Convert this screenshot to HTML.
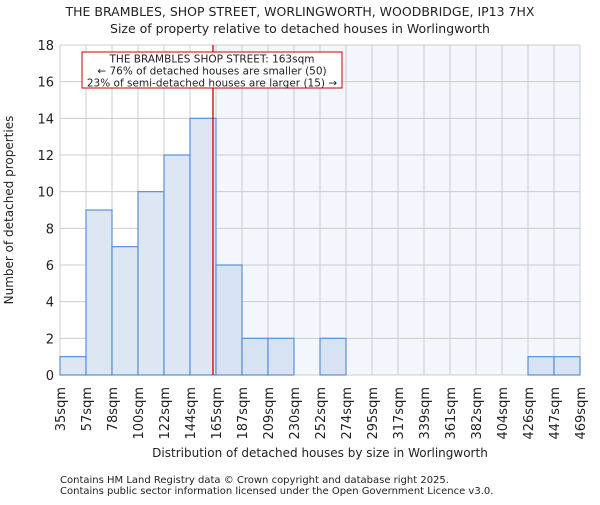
<!DOCTYPE html>
<html><head><meta charset="utf-8"><style>
body{margin:0;background:#fff}
text{font-family:"DejaVu Sans","Liberation Sans",sans-serif;fill:#222}
</style></head><body>
<svg id="chart" width="600" height="500" xmlns="http://www.w3.org/2000/svg">
<text x="300" y="16" text-anchor="middle" font-size="12.5">THE BRAMBLES, SHOP STREET, WORLINGWORTH, WOODBRIDGE, IP13 7HX</text>
<text x="300" y="33" text-anchor="middle" font-size="12.5">Size of property relative to detached houses in Worlingworth</text>
<g id="plot"></g>
<text x="320" y="457" text-anchor="middle" font-size="12">Distribution of detached houses by size in Worlingworth</text>
<text transform="translate(13,210) rotate(-90)" text-anchor="middle" font-size="12">Number of detached properties</text>
<text x="60" y="483" font-size="10">Contains HM Land Registry data © Crown copyright and database right 2025.</text>
<text x="60" y="494" font-size="10">Contains public sector information licensed under the Open Government Licence v3.0.</text>
</svg>
<script>
const binLabels=["35sqm","57sqm","78sqm","100sqm","122sqm","144sqm","165sqm","187sqm","209sqm","230sqm","252sqm","274sqm","295sqm","317sqm","339sqm","361sqm","382sqm","404sqm","426sqm","447sqm","469sqm"];
const counts=[1,9,7,10,12,14,6,2,2,0,2,0,0,0,0,0,0,0,1,1];
const yTicks=[0,2,4,6,8,10,12,14,16,18];
const propertyIndex=5+19/21.5;
const L=60,R=580,T=45,B=375,yMax=18;
const n=counts.length,bw=(R-L)/n;
const xs=i=>L+i*bw;
const ys=v=>B-(v/yMax)*(B-T);
const NS="http://www.w3.org/2000/svg";
const g=document.getElementById('plot');
function mk(t,a){const e=document.createElementNS(NS,t);for(const k in a)e.setAttribute(k,a[k]);g.appendChild(e);return e;}
const px=xs(propertyIndex);
let e=mk('rect',{x:px,y:T,width:R-px,height:B-T,fill:'#f3f6fd'});


for(const t of yTicks){
 e=mk('line',{x1:L,x2:R,y1:ys(t),y2:ys(t),stroke:'#ccc','stroke-width':1});
 
 
 e=mk('text',{x:L-6,y:ys(t)+5,'text-anchor':'end','font-size':'13'});e.textContent=t;
 
 
}
for(let i=0;i<=n;i++){
 e=mk('line',{x1:xs(i),x2:xs(i),y1:T,y2:B,stroke:'#ccc','stroke-width':1});
 
 
}
counts.forEach((c,i)=>{
 if(c<=0)return;
 const right=i>=6;
 e=mk('rect',{x:xs(i),y:ys(c),width:bw,height:B-ys(c),fill:right?'#d7e2f3':'#dde6f3',stroke:'#5b8fd6','stroke-width':1.2});
 
 
});
binLabels.forEach((l,i)=>{
 e=mk('text',{transform:`translate(${xs(i)+5},387) rotate(-90)`,'text-anchor':'end','font-size':'13'});e.textContent=l;
 
 
});
e=mk('line',{x1:px,x2:px,y1:T,y2:B,stroke:'#c00','stroke-width':1.3});


e=mk('rect',{x:82,y:52,width:260,height:36,fill:'#fff',stroke:'#c00','stroke-width':1});


["THE BRAMBLES SHOP STREET: 163sqm","← 76% of detached houses are smaller (50)","23% of semi-detached houses are larger (15) →"].forEach((s,k)=>{
 e=mk('text',{x:212,y:62.5+k*12,'text-anchor':'middle','font-size':'10.5'});e.textContent=s;
 
 
});
</script>
</body></html>
